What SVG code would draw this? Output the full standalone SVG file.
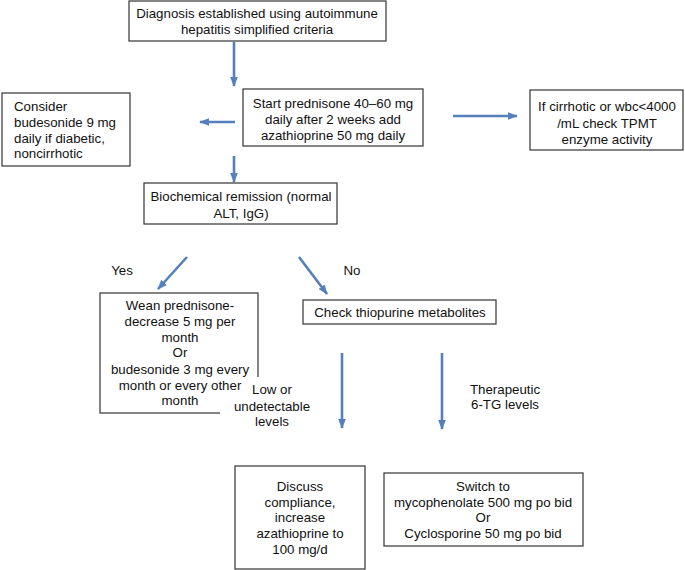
<svg xmlns="http://www.w3.org/2000/svg" width="685" height="570" viewBox="0 0 685 570">
<style>
.box{fill:#fff;stroke:#333;stroke-width:1.2}
text{font-family:"Liberation Sans",Arial,sans-serif;font-size:13.3px;fill:#111}
.c{text-anchor:middle}
.arr{stroke:#5580bb;stroke-width:2.6;fill:none;marker-end:url(#ah)}
</style>
<defs>
<marker id="ah" markerUnits="userSpaceOnUse" markerWidth="10" markerHeight="10" viewBox="0 0 10 10" refX="9" refY="5" orient="auto">
<path d="M0,1.2 L10,5 L0,8.8 Z" fill="#5580bb"/>
</marker>
</defs>
<rect width="685" height="570" fill="#fff"/>
<g id="connectors">
<line class="arr" x1="234" y1="42" x2="234" y2="86"/>
<line class="arr" x1="235" y1="122" x2="200" y2="122"/>
<line class="arr" x1="453" y1="116" x2="517" y2="116"/>
<line class="arr" x1="234" y1="156" x2="234" y2="182"/>
<line class="arr" x1="187" y1="257" x2="158" y2="289"/>
<line class="arr" x1="299" y1="257" x2="327" y2="294"/>
<line class="arr" x1="342" y1="353" x2="342" y2="428"/>
<line class="arr" x1="442" y1="353" x2="442" y2="429"/>
</g>
<g id="diagnosis">
<rect class="box" x="129" y="1" width="257" height="40"/>
<text class="c" x="257" y="18">Diagnosis established using autoimmune</text>
<text class="c" x="257" y="34">hepatitis simplified criteria</text>
</g>
<g id="prednisone">
<rect class="box" x="243" y="89" width="180" height="57"/>
<text class="c" x="333" y="108">Start prednisone 40–60 mg</text>
<text class="c" x="333" y="124">daily after 2 weeks add</text>
<text class="c" x="333" y="140">azathioprine 50 mg daily</text>
</g>
<g id="budesonide">
<rect class="box" x="2" y="93" width="128" height="73"/>
<text x="14" y="111">Consider</text>
<text x="14" y="127">budesonide 9 mg</text>
<text x="14" y="143">daily if diabetic,</text>
<text x="14" y="158">noncirrhotic</text>
</g>
<g id="tpmt">
<rect class="box" x="530" y="90" width="153" height="60"/>
<text class="c" x="607" y="111">If cirrhotic or wbc&lt;4000</text>
<text class="c" x="607" y="128">/mL check TPMT</text>
<text class="c" x="607" y="144">enzyme activity</text>
</g>
<g id="remission">
<rect class="box" x="144" y="183" width="193" height="41"/>
<text class="c" x="241" y="201">Biochemical remission (normal</text>
<text class="c" x="241" y="218">ALT, IgG)</text>
</g>
<g id="labels">
<text class="c" x="122" y="275">Yes</text>
<text class="c" x="352" y="275">No</text>
</g>
<g id="wean">
<rect class="box" x="100" y="293" width="158" height="120"/>
<rect x="220" y="377" width="100" height="52" fill="#fff"/>
<text class="c" x="180" y="310">Wean prednisone-</text>
<text class="c" x="180" y="326">decrease 5 mg per</text>
<text class="c" x="180" y="342">month</text>
<text class="c" x="180" y="357">Or</text>
<text class="c" x="180" y="374">budesonide 3 mg every</text>
<text class="c" x="180" y="390">month or every other</text>
<text class="c" x="180" y="405">month</text>
</g>
<g id="check">
<rect class="box" x="303" y="300" width="193" height="24"/>
<text class="c" x="400" y="317">Check thiopurine metabolites</text>
</g>
<g id="low-label">
<text class="c" x="272" y="394">Low or</text>
<text class="c" x="272" y="411">undetectable</text>
<text class="c" x="272" y="426">levels</text>
</g>
<g id="therapeutic-label">
<text class="c" x="505" y="394">Therapeutic</text>
<text class="c" x="505" y="409">6-TG levels</text>
</g>
<g id="discuss">
<rect class="box" x="235" y="466" width="130" height="103"/>
<text class="c" x="300" y="491">Discuss</text>
<text class="c" x="300" y="507">compliance,</text>
<text class="c" x="300" y="522">increase</text>
<text class="c" x="300" y="538">azathioprine to</text>
<text class="c" x="300" y="554">100 mg/d</text>
</g>
<g id="switch">
<rect class="box" x="384" y="473" width="199" height="73"/>
<text class="c" x="483" y="491">Switch to</text>
<text class="c" x="483" y="507">mycophenolate 500 mg po bid</text>
<text class="c" x="483" y="522">Or</text>
<text class="c" x="483" y="538">Cyclosporine 50 mg po bid</text>
</g>
</svg>
